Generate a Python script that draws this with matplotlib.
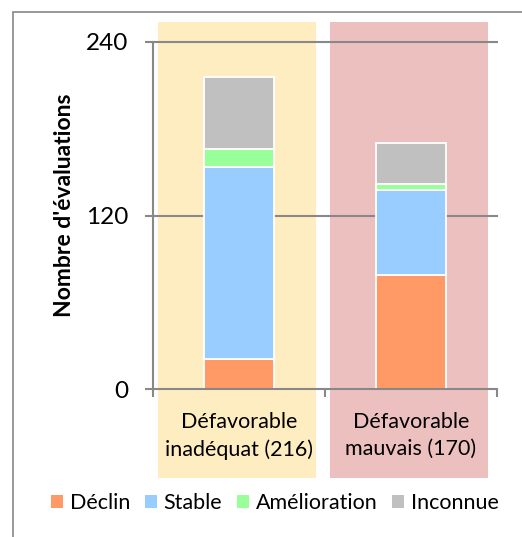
import matplotlib.pyplot as plt
from matplotlib.patches import Rectangle, Patch

plt.rcParams['font.family'] = ['Lato', 'DejaVu Sans']

categories = ["Défavorable\ninadéquat (216)", "Défavorable\nmauvais (170)"]
series = ["Déclin", "Stable", "Amélioration", "Inconnue"]
declin = [21, 79]
stable = [133, 59]
amelioration = [12, 4]
inconnue = [50, 28]

colors = ["#FF9966", "#99CCFF", "#99FF99", "#C0C0C0"]
span_colors = ["#FFEDC2", "#EDC0C0"]
grey = "#888888"

fig = plt.figure(figsize=(5.22, 5.37), dpi=100)
ax = fig.add_axes([0.2931, 0.2747, 0.659, 0.6471])

# outer frame of the chart area
fig.patches.append(Rectangle((0.0249, -0.2), 1.2, 0.9777 + 0.2, transform=fig.transFigure,
                             fill=False, edgecolor=grey, linewidth=1.2))

x = list(range(len(categories)))

# coloured bands behind each category, reaching below the axis
for i, c in enumerate(span_colors):
    ax.add_patch(Rectangle((i - 0.47, -61), 0.92, 315, facecolor=c, edgecolor="none",
                           clip_on=False, zorder=0))

for y in [120, 240]:
    ax.axhline(y, color=grey, linewidth=1.5, zorder=1, clip_on=False)

bottom = [0, 0]
for vals, col, name in zip([declin, stable, amelioration, inconnue], colors, series):
    ax.bar(x, vals, width=0.41, bottom=bottom, color=col, edgecolor="white",
           linewidth=1.3, label=name, zorder=2)
    bottom = [b + v for b, v in zip(bottom, vals)]

ax.set_xlim(-0.5, 1.5)
ax.set_ylim(0, 240)
ax.set_yticks([0, 120, 240])
ax.tick_params(axis='y', length=6, width=1.5, color=grey, pad=12, labelsize=17.5)

ax.set_xticks(x)
ax.set_xticklabels(categories, fontsize=15.5, linespacing=1.45)
ax.tick_params(axis='x', length=0, pad=16)
ax.set_xticks([-0.5, 0.5, 1.5], minor=True)
ax.tick_params(axis='x', which='minor', length=6, width=1.5, color=grey, direction='out')

for s in ["top", "right"]:
    ax.spines[s].set_visible(False)
for s in ["left", "bottom"]:
    ax.spines[s].set_color(grey)
    ax.spines[s].set_linewidth(1.5)
    ax.spines[s].set_zorder(3)
ax.set_facecolor("none")

ax.set_ylabel("Nombre d'évaluations", fontsize=16.5, fontweight="bold")
ax.yaxis.set_label_coords(-0.227, 0.531)

handles = [Patch(facecolor=c, edgecolor="none") for c in colors]
fig.legend(handles, series, loc="center", bbox_to_anchor=(275 / 522, 1 - 503 / 537),
           ncol=4, frameon=False, fontsize=15.5, handlelength=0.55, handleheight=0.55,
           handletextpad=0.3, columnspacing=0.7)

fig.savefig("out.png", dpi=100)
